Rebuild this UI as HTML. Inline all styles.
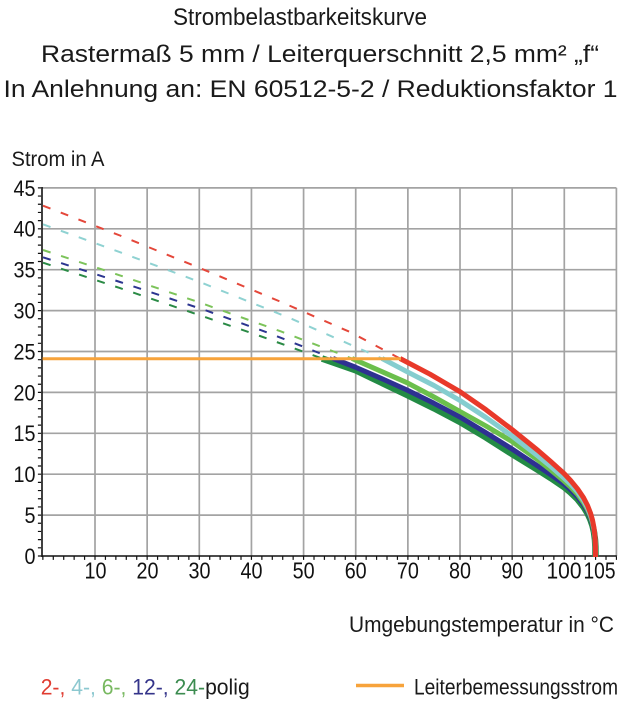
<!DOCTYPE html>
<html>
<head>
<meta charset="utf-8">
<style>
html,body{margin:0;padding:0;background:#fff;}
svg{display:block;}
text{font-family:"Liberation Sans",Arial,sans-serif;}
</style>
</head>
<body>
<svg width="640" height="716" viewBox="0 0 640 716" xmlns="http://www.w3.org/2000/svg">
<rect x="0" y="0" width="640" height="716" fill="#fff"/>

<!-- Title -->
<text x="173" y="25" font-size="24" fill="#1a1a1a" textLength="254" lengthAdjust="spacingAndGlyphs">Strombelastbarkeitskurve</text>
<text x="41" y="62" font-size="24" fill="#1a1a1a" textLength="558" lengthAdjust="spacingAndGlyphs">Rastermaß 5 mm / Leiterquerschnitt 2,5 mm² „f“</text>
<text x="3.5" y="97" font-size="24" fill="#1a1a1a" textLength="614" lengthAdjust="spacingAndGlyphs">In Anlehnung an: EN 60512-5-2 / Reduktionsfaktor 1</text>

<!-- Y axis title -->
<text x="11.5" y="166" font-size="21" fill="#1a1a1a" textLength="93" lengthAdjust="spacingAndGlyphs">Strom in A</text>

<!-- Grid -->
<g stroke="#a3a3a3" stroke-width="1.7" fill="none">
  <path d="M95.0,187.9V556 M147.15,187.9V556 M199.29,187.9V556 M251.44,187.9V556 M303.58,187.9V556 M355.72,187.9V556 M407.87,187.9V556 M460.01,187.9V556 M512.16,187.9V556 M564.3,187.9V556 M616.4,187.9V556"/>
  <path d="M42,187.9H616.4 M42,228.8H616.4 M42,269.7H616.4 M42,310.6H616.4 M42,351.5H616.4 M42,392.4H616.4 M42,433.3H616.4 M42,474.2H616.4 M42,515.1H616.4"/>
</g>

<!-- Axes -->
<g stroke="#111" fill="none">
  <line x1="42" y1="187" x2="42" y2="557" stroke-width="1.6"/>
  <line x1="41.2" y1="556" x2="616.8" y2="556" stroke-width="1.6"/>
  <line x1="39.5" y1="556.6" x2="39.5" y2="187" stroke-width="3.2" stroke-dasharray="1.2 6.98"/>
  <line x1="42.26" y1="558.2" x2="617" y2="558.2" stroke-width="3.4" stroke-dasharray="1.2 9.2288"/>
</g>

<!-- Y tick labels -->
<g font-size="22" fill="#111" text-anchor="end">
  <text x="35.5" y="564" textLength="11" lengthAdjust="spacingAndGlyphs">0</text>
  <text x="35.5" y="523" textLength="11" lengthAdjust="spacingAndGlyphs">5</text>
  <text x="35.5" y="482.1" textLength="22" lengthAdjust="spacingAndGlyphs">10</text>
  <text x="35.5" y="441.2" textLength="22" lengthAdjust="spacingAndGlyphs">15</text>
  <text x="35.5" y="400.3" textLength="22" lengthAdjust="spacingAndGlyphs">20</text>
  <text x="35.5" y="359.4" textLength="22" lengthAdjust="spacingAndGlyphs">25</text>
  <text x="35.5" y="318.5" textLength="22" lengthAdjust="spacingAndGlyphs">30</text>
  <text x="35.5" y="277.6" textLength="22" lengthAdjust="spacingAndGlyphs">35</text>
  <text x="35.5" y="236.7" textLength="22" lengthAdjust="spacingAndGlyphs">40</text>
  <text x="35.5" y="195.8" textLength="22" lengthAdjust="spacingAndGlyphs">45</text>
</g>

<!-- X tick labels -->
<g font-size="23" fill="#111" text-anchor="middle">
  <text x="95.5" y="578.5" textLength="22" lengthAdjust="spacingAndGlyphs">10</text>
  <text x="147.5" y="578.5" textLength="22" lengthAdjust="spacingAndGlyphs">20</text>
  <text x="199.5" y="578.5" textLength="22" lengthAdjust="spacingAndGlyphs">30</text>
  <text x="251.5" y="578.5" textLength="22" lengthAdjust="spacingAndGlyphs">40</text>
  <text x="303.6" y="578.5" textLength="22" lengthAdjust="spacingAndGlyphs">50</text>
  <text x="355.7" y="578.5" textLength="22" lengthAdjust="spacingAndGlyphs">60</text>
  <text x="407.9" y="578.5" textLength="22" lengthAdjust="spacingAndGlyphs">70</text>
  <text x="460" y="578.5" textLength="22" lengthAdjust="spacingAndGlyphs">80</text>
  <text x="512.2" y="578.5" textLength="22" lengthAdjust="spacingAndGlyphs">90</text>
  <text x="564" y="578.5" textLength="35" lengthAdjust="spacingAndGlyphs">100</text>
  <text x="599.5" y="578.5" textLength="32" lengthAdjust="spacingAndGlyphs">105</text>
</g>

<!-- Dashed extensions -->
<g fill="none" stroke-width="2" stroke-dasharray="8 11" stroke-linecap="butt">
  <polyline stroke="#e4473a" points="43,205.7 120,235.5 199,267.7 280,301.5 350,332 400,358.5"/>
  <polyline stroke="#8fd2d2" points="43,224.3 120,252.2 199,281.7 290,318.1 382,358.5"/>
  <polyline stroke="#7cc35a" points="43,250 120,275.4 199,302.3 280,331.1 352,358.5"/>
  <polyline stroke="#2c3590" points="43,257.3 120,282 206.7,310.7 270,333.5 333,358.5"/>
  <polyline stroke="#2a8a45" points="43,262.7 120,288.1 199,315 260,336 322,358.5"/>
</g>

<!-- Solid curves -->
<g fill="none" stroke-linejoin="round" stroke-linecap="butt">
  <polyline stroke="#238b45" stroke-width="6.5" points="322,358.5 355,370 381,382.5 407,395 434,408.3 460,422 486,437.5 512,454 538,470 551,478.2 564,487 570.5,492.4 577.5,499.2 583.5,506.8 587.5,513.3 590.5,519.8 592.5,525.7 594,532.2 595,539.8 595.4,546.8 595.5,557"/>
  <polyline stroke="#2e3192" stroke-width="5" points="333,358.5 355,367 381,378.3 407,390 434,403.3 460,417 486,432.8 512,449 538,466.2 551,474.8 564,484 570.5,489.6 577.5,496.8 583.5,504.7 587.5,511.4 590.5,518.2 592.5,524.4 594,531.1 595,539.1 595.4,546.4 595.5,557"/>
  <polyline stroke="#6bbf4c" stroke-width="5" points="352,358.5 380,370.8 407,382.7 434,397 460,411.5 486,426 512,441.5 538,460 551,470.2 564,481 570.5,486.9 577.5,494.3 583.5,502.5 587.5,509.5 590.5,516.6 592.5,523 594,530.1 595,538.4 595.4,546 595.5,557"/>
  <polyline stroke="#85cdcf" stroke-width="5" points="382,358.5 407,371.7 434,385.5 460,400.5 486,417.5 512,436 538,456 551,466.6 564,478 570.5,484 577.5,491.9 583.5,500.4 587.5,507.7 590.5,515 592.5,521.7 594,529.1 595,537.8 595.4,545.5 595.5,557"/>
  <polyline stroke="#e8392a" stroke-width="5" points="400,358.5 430,374.2 460,391.7 486,409.7 512,429.5 538,450.5 551,461.8 564,473.5 570.5,480.4 577.5,488.8 583.5,497.7 587.5,505.4 590.5,513.1 592.5,520.1 594,527.8 595,536.9 595.4,545 595.5,557"/>
</g>

<!-- Orange rated current line -->
<line x1="42.5" y1="358.7" x2="401" y2="358.7" stroke="#f7a33b" stroke-width="3"/>

<!-- X axis title -->
<text x="349" y="632" font-size="22" fill="#1a1a1a" textLength="265" lengthAdjust="spacingAndGlyphs">Umgebungstemperatur in °C</text>

<!-- Legend -->
<text x="40.7" y="694.5" font-size="22" textLength="209" lengthAdjust="spacingAndGlyphs"><tspan fill="#e03c31">2-, </tspan><tspan fill="#8cc8d0">4-, </tspan><tspan fill="#78b860">6-, </tspan><tspan fill="#34348a">12-, </tspan><tspan fill="#3c8c50">24-</tspan><tspan fill="#1a1a1a">polig</tspan></text>

<line x1="356" y1="685.5" x2="404" y2="685.5" stroke="#f7a33b" stroke-width="3.5"/>
<text x="414" y="694.5" font-size="22" fill="#1a1a1a" textLength="204" lengthAdjust="spacingAndGlyphs">Leiterbemessungsstrom</text>
</svg>
</body>
</html>
